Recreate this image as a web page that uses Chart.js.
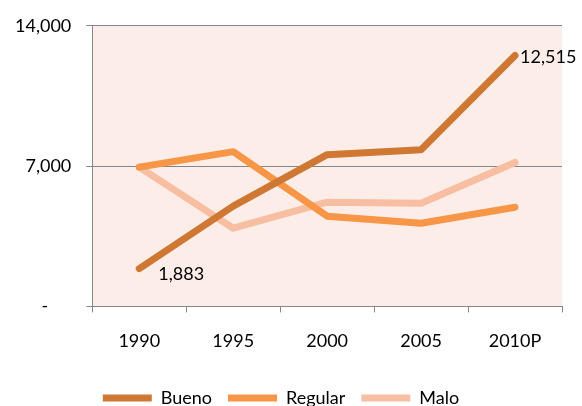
<!DOCTYPE html>
<html>
<head>
<meta charset="utf-8">
<script src="https://cdn.jsdelivr.net/npm/chart.js@4"></script>
<style>
  html, body { margin: 0; padding: 0; background: #fff; }
  #wrap { width: 582px; height: 406px; }
</style>
</head>
<body>
<div id="wrap"><canvas id="grafico" width="582" height="406"></canvas></div>
<script>
// Datos del gráfico
const anios = ['1990', '1995', '2000', '2005', '2010P'];
const bueno = [1883, 5000, 7570, 7820, 12515];
const regular = [6950, 7720, 4500, 4150, 4950];
const malo = [6950, 3900, 5200, 5150, 7180];
const marcasY = [0, 7000, 14000];

// Fondo del área de trazado
const fondoArea = {
    id: 'fondoArea',
    beforeDraw(chart) {
        const a = chart.chartArea;
        const ctx = chart.ctx;
        ctx.save();
        ctx.fillStyle = '#FCEDE8';
        ctx.fillRect(a.left, a.top, a.right - a.left, a.bottom - a.top);
        ctx.restore();
    }
};

// Etiquetas del primer y último valor de "Bueno"
const etiquetas = {
    id: 'etiquetas',
    afterDatasetsDraw(chart) {
        const ctx = chart.ctx;
        const pts = chart.getDatasetMeta(0).data;
        ctx.save();
        ctx.font = '18px Lato';
        ctx.fillStyle = '#000';
        ctx.textBaseline = 'middle';
        ctx.textAlign = 'left';
        const p0 = pts[0];
        ctx.fillText(bueno[0].toLocaleString('en-US'), p0.x + 19, p0.y + 6);
        const pN = pts[pts.length - 1];
        ctx.fillText(bueno[bueno.length - 1].toLocaleString('en-US'), pN.x + 5, pN.y + 2);
        ctx.restore();
    }
};

const serie = (nombre, datos, color) => ({
    label: nombre,
    data: datos,
    borderColor: color,
    backgroundColor: color,
    borderWidth: 7,
    borderCapStyle: 'round',
    borderJoinStyle: 'round',
    pointRadius: 0,
    pointHoverRadius: 0,
    tension: 0,
    fill: false
});

const ctx = document.getElementById('grafico').getContext('2d');
new Chart(ctx, {
    type: 'line',
    data: {
        labels: anios,
        datasets: [
            serie('Bueno', bueno, '#CF7834'),
            serie('Regular', regular, '#F79646'),
            serie('Malo', malo, '#F7BEA2')
        ]
    },
    options: {
        responsive: false,
        animation: false,
        layout: { padding: { left: 0, right: 20, top: 8, bottom: -11 } },
        plugins: {
            tooltip: { enabled: false },
            legend: {
                position: 'bottom',
                labels: {
                    font: { family: 'Lato', size: 18 },
                    color: '#000',
                    usePointStyle: true,
                    pointStyle: 'line',
                    pointStyleWidth: 49,
                    boxHeight: 7,
                    padding: 16
                }
            }
        },
        scales: {
            x: {
                offset: true,
                afterFit(axis) { axis.height += 3; },
                grid: {
                    offset: true,
                    drawOnChartArea: false,
                    tickLength: 6,
                    color: '#868686'
                },
                border: { color: '#868686', width: 1 },
                ticks: {
                    font: { family: 'Lato', size: 18 },
                    color: '#000',
                    padding: 18,
                    maxRotation: 0
                }
            },
            y: {
                min: 0,
                max: 14000,
                afterBuildTicks(axis) {
                    axis.ticks = marcasY.map(v => ({ value: v }));
                },
                grid: {
                    color: (c) => (c.tick && c.tick.value === 0) ? 'rgba(0,0,0,0)' : '#868686',
                    tickLength: 6,
                    tickColor: '#868686'
                },
                border: { color: '#868686', width: 1 },
                ticks: {
                    font: { family: 'Lato', size: 18 },
                    color: '#000',
                    padding: 15,
                    callback: (v) => v === 0 ? '-     ' : v.toLocaleString('en-US')
                }
            }
        }
    },
    plugins: [fondoArea, etiquetas]
});
</script>
</body>
</html>
